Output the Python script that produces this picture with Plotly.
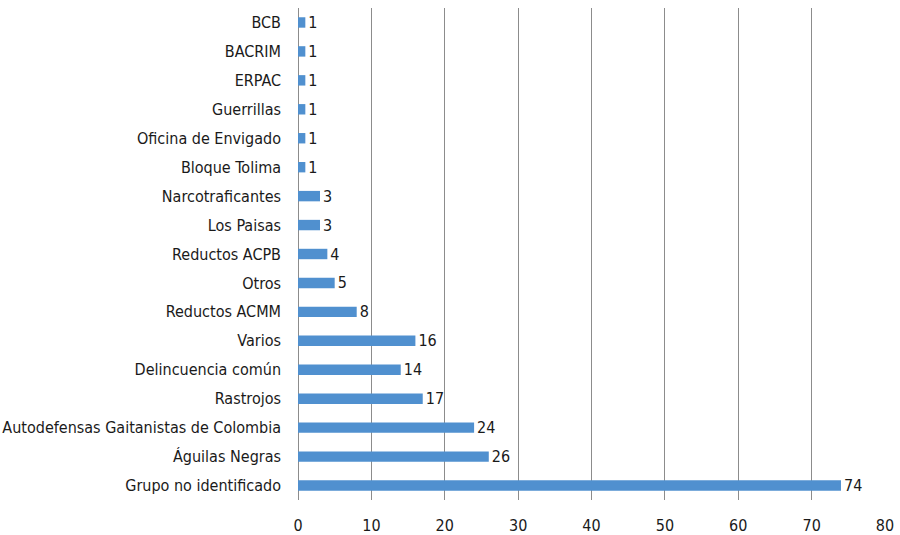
import plotly.graph_objects as go

categories = ["BCB", "BACRIM", "ERPAC", "Guerrillas", "Oficina de Envigado", "Bloque Tolima",
              "Narcotraficantes", "Los Paisas", "Reductos ACPB", "Otros", "Reductos ACMM",
              "Varios", "Delincuencia común", "Rastrojos",
              "Autodefensas Gaitanistas de Colombia", "Águilas Negras", "Grupo no identificado"]
values = [1, 1, 1, 1, 1, 1, 3, 3, 4, 5, 8, 16, 14, 17, 24, 26, 74]
x_ticks = [0, 10, 20, 30, 40, 50, 60, 70, 80]

FONT = "DejaVu Sans Condensed, Roboto, sans-serif"
FS = 16

fig = go.Figure(go.Bar(
    x=values, y=categories, orientation="h",
    marker=dict(color="#5090cf", line=dict(width=0)),
    width=0.36,
    text=[str(v) for v in values], textposition="outside",
    constraintext="none",
    textfont=dict(family=FONT, size=FS, color="#1a1a1a"),
    cliponaxis=False,
))

fig.update_layout(
    width=900, height=535,
    margin=dict(l=298, r=15, t=8, b=35),
    paper_bgcolor="white", plot_bgcolor="white",
    font=dict(family=FONT, size=FS, color="#1a1a1a"),
    showlegend=False,
    bargap=0.64,
)
fig.update_xaxes(range=[0, 80], tickvals=x_ticks, showgrid=True, gridcolor="#8c8c8c", gridwidth=1,
                 zeroline=True, zerolinecolor="#8c8c8c", zerolinewidth=1,
                 showline=False, ticks="", ticklabelstandoff=14, automargin=False,
                 tickfont=dict(family=FONT, size=FS, color="#1a1a1a"))
fig.update_yaxes(autorange="reversed", showgrid=False, showline=False, ticks="",
                 ticklabelstandoff=16, automargin=False,
                 tickfont=dict(family=FONT, size=FS, color="#1a1a1a"))

fig.write_html("out.html")
